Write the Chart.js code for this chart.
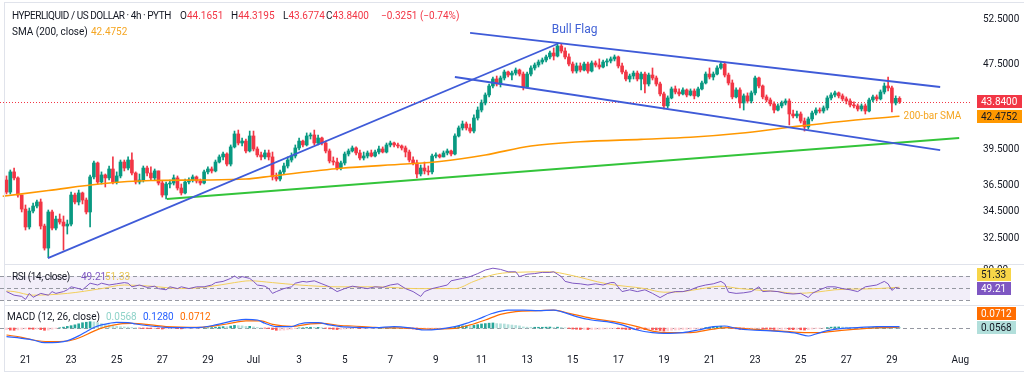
<!DOCTYPE html>
<html><head><meta charset="utf-8">
<script src="https://cdn.jsdelivr.net/npm/chart.js@4/dist/chart.umd.min.js"></script>
<style>
html,body{margin:0;padding:0;background:#fff;}
#wrap{position:relative;width:1024px;height:378px;overflow:hidden;background:#fff;font-family:Roboto,"Noto Sans",sans-serif;}
canvas{position:absolute;left:0;}
.t{position:absolute;font-size:10px;line-height:12px;color:#131722;white-space:nowrap;}
.ln{position:absolute;background:#e0e3eb;}
</style></head><body>
<div id="wrap">
<canvas id="cMain" width="1024" height="264" style="top:0"></canvas>
<canvas id="cRsi" width="1024" height="41" style="top:264px"></canvas>
<canvas id="cMacd" width="1024" height="67" style="top:305px"></canvas>
<div class="ln" style="left:4px;top:2px;width:1020px;height:1px"></div>
<div class="ln" style="left:4px;top:2px;width:1px;height:370px"></div>
<div class="ln" style="left:4px;top:371px;width:1020px;height:1px"></div>
<div class="ln" style="left:4px;top:264px;width:1020px;height:1px"></div>
<div class="ln" style="left:4px;top:305px;width:1020px;height:1px"></div>
<div class="t" style="left:12px;top:10px;letter-spacing:-0.45px">HYPERLIQUID / US DOLLAR · 4h · PYTH</div>
<div class="t" style="left:180px;top:10px">O<span style="color:#f23645">44.1651</span></div>
<div class="t" style="left:231px;top:10px">H<span style="color:#f23645">44.3195</span></div>
<div class="t" style="left:283px;top:10px">L<span style="color:#f23645">43.6774</span></div>
<div class="t" style="left:326px;top:10px">C<span style="color:#f23645">43.8400</span></div>
<div class="t" style="left:381px;top:10px;color:#f23645">−0.3251 (−0.74%)</div>
<div class="t" style="left:12px;top:26px">SMA (200, close)</div>
<div class="t" style="left:91px;top:26px;color:#f5a623">42.4752</div>
<div class="t" style="left:12px;top:271px;letter-spacing:-0.4px">RSI (14, close)</div>
<div class="t" style="left:81px;top:271px;color:#7e57c2">49.21</div>
<div class="t" style="left:105px;top:271px;color:#e9c85a">51.33</div>
<div class="t" style="left:7px;top:311px">MACD (12, 26, close)</div>
<div class="t" style="left:106px;top:311px;color:#8fd3c9">0.0568</div>
<div class="t" style="left:143px;top:311px;color:#2962ff">0.1280</div>
<div class="t" style="left:180px;top:311px;color:#ff6d00">0.0712</div>
</div>
<script>
// ---------- DATA ----------
const firstBarTime = '2025-06-20T04:00:00Z';   // 4h candles
const firstOpen = 36.95;
const closes = [35.99,37.61,37.12,35.76,34.68,33.35,34.53,34.91,35.22,33.42,
31.85,34.46,33.27,33.93,33.71,33.42,33.56,35.76,35.22,35.92,
35.37,34.46,37.20,38.35,36.79,37.36,37.12,37.85,36.79,37.28,
38.43,37.93,38.60,37.52,36.79,36.95,37.93,37.52,37.12,37.69,
36.71,35.76,36.63,36.71,37.12,36.31,35.92,36.79,36.95,37.20,
36.87,36.71,37.61,37.85,37.69,38.43,38.86,39.11,38.26,39.72,
40.86,40.06,40.23,39.37,40.68,39.54,39.03,38.86,39.20,38.86,
37.20,37.03,37.61,38.10,38.60,38.94,39.63,40.23,39.89,40.68,
40.77,40.06,40.50,40.06,39.37,38.52,38.43,37.93,38.35,39.11,
39.37,39.63,39.20,38.77,38.94,39.20,38.94,39.28,39.54,39.28,
39.89,40.06,39.89,39.80,39.63,39.28,38.60,38.35,37.44,37.93,
37.69,37.61,38.94,39.03,38.86,39.20,39.37,39.11,40.68,41.40,
41.76,41.40,41.12,42.31,43.05,43.72,44.49,45.37,46.07,45.57,
46.17,46.78,46.47,46.67,46.98,46.57,45.27,46.57,47.19,47.50,
47.81,48.02,48.34,48.76,48.44,49.51,48.97,48.34,47.60,46.88,
47.40,46.98,47.60,46.88,47.71,47.50,47.29,47.81,47.92,48.13,
48.34,47.40,46.78,46.07,46.37,46.67,46.07,46.57,45.57,46.47,
46.17,45.57,44.59,43.44,44.20,45.08,44.78,44.59,44.98,44.49,
44.88,44.40,45.08,45.67,46.57,46.27,46.57,47.19,47.60,46.47,
45.67,44.30,44.98,43.72,44.40,43.91,44.69,46.17,45.37,44.30,
44.01,43.63,43.05,43.44,43.72,43.91,42.68,42.50,42.68,42.03,
41.49,42.22,42.77,43.05,42.96,43.25,44.20,44.49,44.69,44.40,
44.11,43.91,43.53,43.44,43.15,43.44,42.96,44.01,44.30,44.11,
44.78,45.37,45.18,43.72,44.1651,43.84];
const highs = [37.28,37.77,37.93,37.20,35.76,34.99,34.76,35.14,35.37,35.45,
33.56,34.61,34.61,34.16,34.31,34.16,33.86,35.99,35.92,36.15,
35.99,35.53,37.36,38.52,38.43,37.61,37.44,38.10,38.86,37.61,
38.60,38.60,38.86,39.20,37.61,37.44,38.10,38.10,38.02,37.85,
37.69,36.87,36.79,36.95,37.36,37.28,36.63,37.03,37.12,37.36,
37.28,37.03,37.77,38.02,38.02,38.60,39.03,39.28,39.20,39.89,
41.12,41.21,40.50,40.41,41.12,41.12,39.72,39.28,39.45,39.45,
39.28,37.52,37.77,38.35,38.86,39.20,39.89,40.50,40.32,40.95,
40.95,41.21,40.77,40.59,40.23,39.54,38.86,38.77,38.52,39.28,
39.54,39.80,39.72,39.45,39.28,39.37,39.45,39.45,39.80,39.72,
40.06,40.23,40.15,40.06,39.89,39.80,39.45,38.86,38.60,38.18,
38.43,38.10,39.11,39.20,39.11,39.37,39.54,39.45,40.86,41.58,
42.03,41.94,41.76,42.59,43.34,44.01,44.69,45.57,46.27,46.37,
46.37,46.98,46.88,46.88,47.19,47.08,46.78,46.78,47.40,47.71,
48.02,48.23,48.55,48.97,49.30,49.84,49.73,49.30,48.66,47.81,
47.71,47.71,47.81,47.81,47.92,47.92,48.13,48.02,48.13,48.34,
48.55,48.44,47.71,46.98,46.57,46.88,46.88,46.78,46.78,46.67,
47.19,46.37,45.77,44.78,44.40,45.27,45.37,45.08,45.18,45.08,
45.08,45.08,45.27,45.87,46.78,47.19,46.78,47.40,47.81,47.81,
46.67,45.97,45.18,45.18,44.59,44.69,44.88,46.37,46.27,45.47,
44.49,44.20,43.82,43.63,43.91,44.11,44.11,43.05,42.96,42.87,
42.31,42.40,42.96,43.25,43.25,43.44,44.40,44.69,44.88,44.78,
44.59,44.30,44.11,43.82,43.63,43.63,43.63,44.20,44.49,44.49,
44.98,45.67,46.27,45.37,44.40,44.3195];
const lows = [35.84,35.84,36.95,35.60,34.46,33.13,33.20,34.38,34.76,33.20,
31.71,31.20,33.13,33.13,33.56,31.71,32.84,33.42,35.07,34.99,
35.07,34.31,33.35,37.03,36.63,36.63,36.39,36.95,36.63,36.63,
37.12,37.69,37.77,37.36,36.63,36.63,36.79,37.28,36.95,36.95,
36.55,35.60,35.45,36.31,36.55,36.15,35.76,35.84,36.63,36.79,
36.71,36.55,36.63,37.44,37.52,37.61,38.35,38.60,38.10,38.10,
39.63,39.89,39.80,39.20,39.28,39.37,38.86,38.60,38.69,38.60,
36.95,36.87,36.87,37.44,37.93,38.43,38.77,39.45,39.72,39.80,
40.41,39.89,39.89,39.89,39.20,38.35,38.18,37.77,37.77,38.18,
38.94,39.28,39.03,38.60,38.60,38.77,38.86,38.86,39.11,39.20,
39.20,39.72,39.72,39.63,39.45,38.86,38.43,38.18,37.12,37.28,
37.44,37.36,37.44,38.77,38.77,38.86,39.03,38.94,39.03,40.59,
41.21,41.21,40.95,40.95,42.12,42.87,43.53,44.30,45.18,45.37,
45.27,45.97,46.27,45.97,46.47,46.37,44.98,45.18,46.37,46.98,
47.29,47.60,47.81,48.13,48.02,48.34,48.76,48.13,47.40,46.67,
46.67,46.78,46.88,46.67,46.78,47.29,47.08,47.19,47.40,47.71,
47.92,47.19,46.57,45.87,45.77,46.07,45.87,44.98,44.69,45.37,
45.97,45.37,44.40,43.15,43.25,44.11,44.59,44.40,44.49,44.30,
44.40,44.11,44.30,44.98,45.57,46.07,45.97,46.47,47.08,46.27,
45.47,44.11,44.20,43.25,43.05,43.72,43.72,44.49,45.18,44.11,
43.82,43.44,42.77,42.96,43.25,43.53,41.67,42.31,42.31,41.85,
41.12,41.30,42.03,42.59,42.77,42.77,43.05,44.01,44.30,44.20,
43.91,43.63,43.34,43.25,42.96,42.96,42.68,42.87,43.82,43.91,
44.01,44.59,44.88,42.87,43.53,43.6774];
// SMA(200): [bar, value]
const sma200 = [[-1,35.66],[11,36.11],[25,36.65],[38,36.91],[51,36.95],[63,37.03],[70,37.28],[88,37.91],[105,38.26],[114,38.48],[126,39.03],[138,39.80],[151,40.17],[167,40.38],[180,40.56],[193,40.92],[206,41.46],[219,41.97],[235,42.4752]];
const smaLast = 42.4752;
// trend lines drawn on the chart: [bar, price]
const poleLine = [[10.9,31.16],[144.9,49.73]];
const flagUpper = [[122,50.94],[245.7,45.27]];
const flagLower = [[118,46.27],[245.7,39.45]];
const supportLine = [[42.2,35.45],[250.7,40.50]];
const flagLabelAt = [149.5,51.27];
// RSI(14) and its MA: [bar, value]
const rsi14 = [[0,44],[2,38],[4,36],[5,31],[6,41],[7,34.5],[9,41],[11,38],[12,44],[13,41],[15,44],[16,47],[17,52],[19,49],[20,47],[22,58],[24,55],[25,58],[27,55],[29,57],[31,59],[32,58],[33,52],[35,55],[37,51],[39,53],[40,49],[42,47],[43,52],[45,49],[46,52],[48,49],[50,52],[52,52],[54,55],[55,59],[57,61],[59,66],[60,70],[61,66],[62,69],[64,66],[65,61],[66,55],[68,53],[69,49],[70,41],[71,44],[73,49],[75,52],[76,58],[78,61],[79,60],[81,62],[83,57],[85,52],[87,44],[89,49],[91,53],[93,51],[95,49],[97,52],[99,51],[101,55],[103,57],[105,49],[107,44],[109,36],[110,44],[112,49],[114,52],[116,55],[117,62],[120,66],[122,69],[124,74],[126,80],[128,83],[130,81],[132,77],[134,77],[135,69],[137,73],[139,74],[141,76],[143,76],[144,77],[146,69],[147,61],[149,58],[151,57],[153,55],[155,57],[157,55],[159,59],[160,59],[162,44],[164,47],[166,44],[168,47],[170,41],[172,34],[174,41],[176,44],[178,44],[180,47],[182,52],[184,55],[186,57],[188,61],[189,57],[190,43],[192,41],[194,42],[196,44],[198,52],[199,44],[201,45],[203,44],[205,41],[207,40],[209,41],[211,34],[212,41],[214,47],[216,52],[218,52],[220,49],[222,47],[224,44],[226,52],[229,55],[230,58],[231,61],[232,57],[233,46],[234,51],[235,49.21]];
const rsiMA = [[0,45],[2,44],[7,38],[16,41],[25,49],[31,55],[38,53],[46,49],[53,52],[60,59],[64,62],[70,59],[77,55],[87,52],[97,52],[108,49],[118,49],[123,61],[128,72],[133,76],[143,77],[148,72],[158,57],[168,49],[173,43],[178,44],[183,49],[188,53],[193,49],[203,44],[208,41],[213,43],[218,47],[229,49],[235,51.33]];
const rsiLevels = [70,50,30];
// MACD(12,26): line, signal [bar, value]; histogram one value per bar
const macdLine = [[0,-0.83],[4,-0.98],[7,-1.14],[10,-1.4],[12,-1.4],[15,-1.3],[17,-1.08],[19,-0.75],[21,-0.35],[23,0.05],[25,0.3],[27,0.44],[29,0.54],[32,0.52],[34,0.38],[38,0.19],[42,0.06],[46,0.03],[51,0.06],[55,0.29],[60,0.7],[63,0.83],[66,0.76],[68,0.45],[71,0.13],[75,0.13],[77,0.38],[80,0.51],[82,0.51],[85,0.29],[88,0.13],[92,0.06],[97,0.03],[102,0.13],[107,-0.03],[110,-0.19],[114,-0.1],[118,0.13],[121,0.44],[124,0.83],[128,1.4],[132,1.71],[136,1.71],[140,1.65],[144,1.71],[146,1.56],[150,1.08],[154,0.76],[158,0.6],[162,0.29],[166,-0.19],[170,-0.44],[173,-0.51],[178,-0.44],[182,-0.19],[186,0.13],[189,0.19],[192,-0.03],[196,-0.19],[200,-0.25],[204,-0.35],[208,-0.51],[211,-0.76],[213,-0.57],[216,-0.25],[220,-0.03],[224,0.03],[229,0.13],[235,0.128]];
const macdSignal = [[0,-0.67],[4,-0.89],[7,-1.14],[11,-1.3],[16,-1.24],[19,-0.95],[23,-0.3],[26,0.1],[30,0.4],[33,0.44],[38,0.29],[42,0.13],[51,0.06],[58,0.38],[63,0.67],[67,0.67],[70,0.35],[75,0.15],[80,0.4],[83,0.44],[88,0.24],[91,0.19],[97,0.06],[107,-0.03],[111,-0.1],[118,-0.03],[122,0.29],[126,0.76],[130,1.3],[134,1.56],[140,1.65],[144,1.71],[148,1.4],[154,0.92],[160,0.6],[166,0.13],[170,-0.29],[174,-0.44],[180,-0.44],[186,-0.1],[190,0.03],[196,-0.1],[204,-0.29],[210,-0.44],[214,-0.44],[218,-0.29],[224,-0.1],[230,0.03],[235,0.0712]];
const macdHist = [-0.15,-0.2,-0.22,-0.18,-0.12,-0.08,-0.1,-0.12,-0.1,-0.15,
-0.22,-0.2,-0.12,-0.05,0.02,0.08,0.15,0.22,0.3,0.4,
0.5,0.55,0.6,0.58,0.5,0.42,0.35,0.3,0.22,0.15,
0.12,0.1,0.08,0.05,0.02,-0.02,-0.04,-0.05,-0.06,-0.05,
-0.06,-0.1,-0.08,-0.07,-0.05,-0.06,-0.08,-0.06,-0.04,-0.03,
-0.02,-0.02,0.01,0.02,0.04,0.07,0.1,0.13,0.12,0.18,
0.25,0.22,0.2,0.15,0.16,0.1,0.05,0.01,-0.02,-0.05,
-0.15,-0.22,-0.22,-0.2,-0.17,-0.12,-0.06,0.01,0.02,0.05,
0.07,0.06,0.06,0.03,-0.02,-0.08,-0.12,-0.15,-0.13,-0.1,
-0.07,-0.04,-0.04,-0.05,-0.04,-0.03,-0.03,-0.01,0.01,0.01,
0.02,0.03,0.03,0.02,0.01,-0.03,-0.07,-0.1,-0.16,-0.15,
-0.15,-0.15,-0.08,-0.05,-0.03,-0.02,-0.01,-0.01,0.08,0.15,
0.2,0.2,0.18,0.25,0.32,0.38,0.42,0.46,0.48,0.42,
0.4,0.38,0.32,0.28,0.24,0.2,0.1,0.08,0.07,0.07,
0.07,0.07,0.08,0.09,0.06,0.08,0.06,0.02,-0.04,-0.1,
-0.12,-0.14,-0.13,-0.15,-0.14,-0.13,-0.12,-0.1,-0.08,-0.06,
-0.05,-0.07,-0.1,-0.14,-0.15,-0.14,-0.15,-0.13,-0.16,-0.14,
-0.15,-0.19,-0.24,-0.3,-0.28,-0.22,-0.2,-0.18,-0.14,-0.13,
-0.1,-0.09,-0.06,-0.02,0.04,0.08,0.1,0.14,0.17,0.12,
0.05,-0.05,-0.08,-0.14,-0.15,-0.15,-0.13,-0.05,-0.03,-0.06,
-0.08,-0.1,-0.14,-0.14,-0.13,-0.1,-0.14,-0.16,-0.15,-0.17,
-0.2,-0.16,-0.1,-0.06,-0.04,-0.01,0.04,0.08,0.1,0.1,
0.09,0.08,0.06,0.04,0.03,0.03,0.01,0.04,0.06,0.06,
0.07,0.1,0.1,0.06,0.06,0.0568];
const macdLast = 0.1280, signalLast = 0.0712, histLast = 0.0568, rsiLast = 49.21, rsiMALast = 51.33;
// axes
const priceTicks = [32.5,34.5,36.5,39.5,47.5,52.5];
const rsiTicks = [80];
const timeTickDates = ['2025-06-21','2025-06-23','2025-06-25','2025-06-27','2025-06-29','2025-07-01','2025-07-03','2025-07-05','2025-07-07','2025-07-09','2025-07-11','2025-07-13','2025-07-15','2025-07-17','2025-07-19','2025-07-21','2025-07-23','2025-07-25','2025-07-27','2025-07-29','2025-08-01'];
const timeTickLabels = ['21','23','25','27','29','Jul','3','5','7','9','11','13','15','17','19','21','23','25','27','29','Aug'];

// ---------- RENDER ----------
const FONT = 'Roboto, "Noto Sans", sans-serif';
const UP = '#089981', DN = '#f23645';
const X_MIN = -1.71, X_MAX = 253.55, AXIS_W = 54;
const t0 = Date.parse(firstBarTime);
const timeTickIdx = timeTickDates.map(d => (Date.parse(d + 'T00:00:00Z') - t0) / 14400000);
const n = closes.length;
const idx = closes.map((_, i) => i);
const opens = closes.map((c, i) => i === 0 ? firstOpen : closes[i - 1]);
const candleCol = idx.map(i => closes[i] >= opens[i] ? UP : DN);
const pts = arr => arr.map(([x, y]) => ({x, y}));
Chart.defaults.font.family = FONT;
Chart.defaults.font.size = 10;
Chart.defaults.color = '#131722';

function rightAxis(extra) {
  return Object.assign({
    position: 'right', grid: {display: false, drawTicks: false}, border: {display: false},
    ticks: {padding: 13, color: '#131722', font: {size: 10, family: FONT}},
    afterFit: s => { s.width = AXIS_W; s.paddingTop = 0; s.paddingBottom = 0; }
  }, extra);
}
function xHidden() {
  return {type: 'linear', min: X_MIN, max: X_MAX, display: false, offset: false};
}
function tagBox(ctx, x, yc, text, bg, fg) {
  ctx.save();
  ctx.font = '10px ' + FONT;
  const w = Math.ceil(ctx.measureText(text).width) + 8, h = 13;
  const y0 = Math.round(yc - h / 2);
  ctx.fillStyle = bg;
  ctx.fillRect(x, y0, w, h);
  ctx.fillStyle = fg;
  ctx.textBaseline = 'middle';
  ctx.fillText(text, x + 4, y0 + h / 2 + 0.5);
  ctx.restore();
}
function dashedH(ctx, area, y, color) {
  ctx.save();
  ctx.strokeStyle = color; ctx.lineWidth = 1; ctx.setLineDash([4, 3]);
  ctx.beginPath(); ctx.moveTo(area.left, Math.round(y) + 0.5); ctx.lineTo(area.right, Math.round(y) + 0.5); ctx.stroke();
  ctx.restore();
}
const baseOpts = {
  responsive: false, animation: false, devicePixelRatio: 1, events: [],
  layout: {padding: 0},
  plugins: {legend: {display: false}, tooltip: {enabled: false}}
};
const TAG_X = 977;

// main price pane
const mainDecor = {
  id: 'mainDecor',
  beforeDatasetsDraw(chart) {
    const {ctx, chartArea: a, scales: {y}} = chart;
    const yy = Math.round(y.getPixelForValue(closes[n - 1])) + 0.5;
    ctx.save(); ctx.strokeStyle = '#f23645'; ctx.lineWidth = 1; ctx.setLineDash([1, 2]);
    ctx.beginPath(); ctx.moveTo(a.left, yy); ctx.lineTo(a.right, yy); ctx.stroke(); ctx.restore();
  },
  afterDraw(chart) {
    const {ctx, scales: {x, y}} = chart;
    ctx.save();
    ctx.font = '12px ' + FONT; ctx.fillStyle = '#4262d6'; ctx.textAlign = 'center'; ctx.textBaseline = 'middle';
    ctx.fillText('Bull Flag', x.getPixelForValue(flagLabelAt[0]), y.getPixelForValue(flagLabelAt[1]));
    const last = sma200[sma200.length - 1];
    ctx.font = '10px ' + FONT; ctx.fillStyle = '#f5a623'; ctx.textAlign = 'left';
    ctx.fillText('200-bar SMA', x.getPixelForValue(last[0]) + 4, y.getPixelForValue(last[1]));
    ctx.restore();
    tagBox(ctx, TAG_X, y.getPixelForValue(closes[n - 1]), closes[n - 1].toFixed(4), '#f23645', '#ffffff');
    tagBox(ctx, TAG_X, y.getPixelForValue(smaLast), smaLast.toFixed(4), '#ff9800', '#131722');
  }
};
const lineDs = (data, color, width, order, tension) => ({
  type: 'line', data: pts(data), borderColor: color, borderWidth: width, pointRadius: 0,
  tension: tension || 0, cubicInterpolationMode: tension ? 'monotone' : 'default', order, fill: false
});
new Chart(document.getElementById('cMain'), {
  type: 'bar',
  data: {datasets: [
    {label: 'wick', data: idx.map(i => ({x: i, y: [lows[i], highs[i]]})), backgroundColor: candleCol, barThickness: 1, grouped: false, order: 4},
    {label: 'body', data: idx.map(i => ({x: i, y: [opens[i], closes[i]]})), backgroundColor: candleCol, barThickness: 3, grouped: false, minBarLength: 1, order: 3},
    lineDs(sma200, '#ff9800', 1.6, 2, 0.4),
    lineDs(poleLine, '#3f5bd8', 1.8, 1),
    lineDs(flagUpper, '#3f5bd8', 1.8, 1),
    lineDs(flagLower, '#3f5bd8', 1.8, 1),
    lineDs(supportLine, '#33c43a', 1.8, 1)
  ]},
  options: Object.assign({}, baseOpts, {
    scales: {
      x: xHidden(),
      y: rightAxis({type: 'logarithmic', min: 30.76, max: 54.74,
        afterBuildTicks: s => { s.ticks = priceTicks.map(v => ({value: v})); },
        ticks: {padding: 13, color: '#131722', font: {size: 10, family: FONT}, callback: v => Number(v).toFixed(4)}})
    }
  }),
  plugins: [mainDecor]
});

// RSI pane
const rsiDecor = {
  id: 'rsiDecor',
  beforeDatasetsDraw(chart) {
    const {ctx, chartArea: a, scales: {y}} = chart;
    ctx.save(); ctx.fillStyle = 'rgba(126,87,194,0.10)';
    const yt = y.getPixelForValue(rsiLevels[0]), yb = y.getPixelForValue(rsiLevels[2]);
    ctx.fillRect(a.left, yt, a.right - a.left, yb - yt); ctx.restore();
    rsiLevels.forEach(v => dashedH(ctx, a, y.getPixelForValue(v), '#9598a1'));
  },
  afterDraw(chart) {
    const {ctx, scales: {y}} = chart;
    const yr = y.getPixelForValue(rsiLast);
    tagBox(ctx, TAG_X, yr - 14, rsiMALast.toFixed(2), '#f7d548', '#131722');
    tagBox(ctx, TAG_X, yr, rsiLast.toFixed(2), '#7e57c2', '#ffffff');
  }
};
new Chart(document.getElementById('cRsi'), {
  type: 'line',
  data: {datasets: [
    lineDs(rsiMA, '#f2cf5b', 1, 2, 0.4),
    lineDs(rsi14, '#7e57c2', 1, 1)
  ]},
  options: Object.assign({}, baseOpts, {
    scales: {
      x: xHidden(),
      y: rightAxis({type: 'linear', min: 21.67, max: 90,
        afterBuildTicks: s => { s.ticks = rsiTicks.map(v => ({value: v})); },
        ticks: {padding: 13, color: '#131722', font: {size: 10, family: FONT}, callback: v => Number(v).toFixed(2)}})
    }
  }),
  plugins: [rsiDecor]
});

// MACD pane + time axis
const histCol = macdHist.map((v, i) => {
  const p = i === 0 ? v : macdHist[i - 1];
  return v >= 0 ? (v >= p ? '#26a69a' : '#b2dfdb') : (v < p ? '#ff5252' : '#ffcdd2');
});
const macdDecor = {
  id: 'macdDecor',
  beforeDatasetsDraw(chart) {
    const {ctx, chartArea: a, scales: {y}} = chart;
    dashedH(ctx, a, y.getPixelForValue(0), '#9598a1');
  },
  afterDraw(chart) {
    const {ctx, scales: {y}} = chart;
    const yh = y.getPixelForValue(histLast);
    tagBox(ctx, TAG_X, yh - 14, signalLast.toFixed(4), '#ff6d00', '#ffffff');
    tagBox(ctx, TAG_X, yh, histLast.toFixed(4), '#b2dfdb', '#131722');
  }
};
new Chart(document.getElementById('cMacd'), {
  type: 'bar',
  data: {datasets: [
    {label: 'hist', data: idx.map(i => ({x: i, y: macdHist[i]})), backgroundColor: histCol, barThickness: 2, grouped: false, order: 3},
    lineDs(macdSignal, '#ff6d00', 1.2, 2, 0.4),
    lineDs(macdLine, '#2962ff', 1.2, 1, 0.4)
  ]},
  options: Object.assign({}, baseOpts, {
    scales: {
      x: {type: 'linear', min: X_MIN, max: X_MAX, offset: false, position: 'bottom',
        grid: {display: false, drawTicks: false}, border: {display: false},
        afterBuildTicks: s => { s.ticks = timeTickIdx.map(v => ({value: v})); },
        ticks: {autoSkip: false, maxRotation: 0, padding: 6, color: '#131722', font: {size: 10, family: FONT},
          callback: v => { const k = timeTickIdx.indexOf(v); return k >= 0 ? timeTickLabels[k] : ''; }},
        afterFit: s => { s.height = 24; s.paddingLeft = 0; s.paddingRight = 0; }},
      y: rightAxis({type: 'linear', min: -1.905, max: 2.19, ticks: {display: false}})
    }
  }),
  plugins: [macdDecor]
});
</script>
</body></html>
